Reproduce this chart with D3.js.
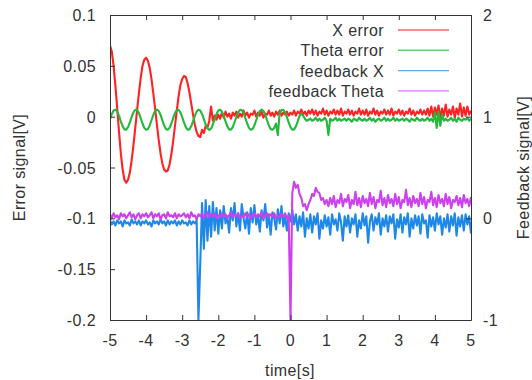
<!DOCTYPE html>
<html><head><meta charset="utf-8">
<script src="https://cdn.jsdelivr.net/npm/d3@7"></script>
<style>
html,body{margin:0;padding:0;background:#fff;}
svg text{font-family:"Liberation Sans",Arial,sans-serif;fill:#333;letter-spacing:0.4px;}
</style></head>
<body><svg id="c" width="532" height="380"></svg>
<script>
// sampling: one value every 0.05 s from -5 s to 5 s (201 samples)
const timeStart = -5, timeStep = 0.05;
const xTicks = [-5,-4,-3,-2,-1,0,1,2,3,4,5];
const yLeftTicks = [0.1,0.05,0,-0.05,-0.1,-0.15,-0.2];
const yLeftLabels = ["0.1","0.05","0","-0.05","-0.1","-0.15","-0.2"];
const yRightTicks = [2,1,0,-1];
const seriesNames = ["X error","Theta error","feedback X","feedback Theta"];
const seriesColors = ["#ff2222","#22b83a","#1e88e8","#cc40f0"];

const xError = [
0.070,0.064,0.050,0.030,0.008,-0.015,-0.036,-0.052,-0.062,-0.065,
-0.062,-0.055,-0.043,-0.028,-0.011,0.006,0.023,0.038,0.050,0.056,
0.058,0.055,0.048,0.037,0.023,0.008,-0.008,-0.023,-0.036,-0.046,
-0.052,-0.054,-0.053,-0.047,-0.037,-0.024,-0.009,0.006,0.020,0.031,
0.037,0.040,0.039,0.033,0.024,0.013,0.002,-0.008,-0.015,-0.019,
-0.020,
-0.013,-0.016,-0.009,-0.011,-0.004,0.010,-0.004,0.001,-0.003,0.002,
-0.002,0.004,-0.001,0.005,0.000,0.003,-0.002,0.004,0.001,0.005,
-0.001,0.003,0.000,0.006,0.001,0.004,-0.001,0.003,0.002,0.006,
0.000,0.004,0.001,0.005,-0.001,0.003,0.002,0.006,0.001,0.004,
0.000,0.005,0.002,0.006,0.001,0.004,0.002,0.005,0.001,0.004,
0.002,0.006,0.001,0.005,0.003,0.007,0.002,0.005,0.001,0.006,
0.003,0.007,0.002,0.006,0.001,0.005,0.003,0.008,0.002,0.006,
0.001,0.005,0.003,0.007,0.002,0.006,0.002,0.008,0.001,0.005,
0.003,0.007,0.002,0.006,0.001,0.005,0.003,0.008,0.002,0.006,
0.002,0.007,0.001,0.005,0.003,0.008,0.002,0.006,0.001,0.005,
0.003,0.007,0.002,0.006,0.002,0.008,0.001,0.005,0.003,0.007,
0.002,0.006,0.001,0.005,0.003,0.008,0.002,0.006,0.001,0.005,
0.003,0.007,0.002,0.006,0.002,0.008,0.001,0.010,0.000,0.009,
0.002,0.011,-0.001,0.008,0.001,0.012,0.000,0.007,0.002,0.010,
-0.001,0.008,0.002,0.013,0.000,0.009,0.001,0.010,0.002,0.006
];

const thetaError = [
-0.0025,0.0026,0.0061,0.0069,0.0050,0.0007,-0.0046,-0.0095,-0.0125,-0.0128,
-0.0103,-0.0057,-0.0003,0.0043,0.0068,0.0065,0.0035,-0.0014,-0.0067,-0.0110,
-0.0129,-0.0121,-0.0086,-0.0035,0.0017,0.0056,0.0070,0.0056,0.0017,-0.0035,
-0.0086,-0.0121,-0.0129,-0.0110,-0.0067,-0.0014,0.0035,0.0065,0.0068,0.0043,
-0.0003,-0.0057,-0.0103,-0.0128,-0.0125,-0.0095,-0.0046,0.0007,0.0050,0.0069,
0.0061,
0.0026,-0.0025,-0.0077,-0.0116,-0.0130,-0.0116,-0.0077,-0.0025,0.0026,0.0061,
0.0069,0.0050,0.0007,-0.0046,-0.0095,-0.0125,-0.0128,-0.0103,-0.0057,-0.0003,
0.0043,0.0068,0.0065,0.0035,-0.0014,-0.0067,-0.0110,-0.0129,-0.0121,-0.0086,
-0.0035,0.0017,0.0056,0.0070,0.0056,0.0017,-0.0035,-0.0086,-0.0121,-0.0129,
-0.0110,-0.0067,-0.0180,0.0035,0.0065,0.0068,0.0043,-0.0003,-0.0057,-0.0103,
-0.0128,-0.0125,-0.0095,-0.0046,0.0007,0.0030,0.0010,-0.0020,-0.0040,-0.0030,
-0.002,-0.004,-0.003,-0.001,-0.004,-0.002,-0.004,-0.003,-0.001,-0.004,
-0.018,-0.002,-0.004,-0.003,-0.001,-0.004,-0.002,-0.004,-0.003,-0.002,
-0.004,-0.002,-0.003,-0.005,-0.002,-0.003,-0.004,-0.001,-0.003,-0.004,
-0.002,-0.004,-0.003,-0.001,-0.004,-0.002,-0.005,-0.003,-0.002,-0.004,
-0.003,-0.001,-0.004,-0.002,-0.004,-0.003,-0.001,-0.004,-0.002,-0.004,
-0.003,-0.002,-0.004,-0.002,-0.003,-0.005,-0.002,-0.003,-0.004,-0.001,
-0.003,-0.004,-0.002,-0.004,-0.003,-0.001,-0.004,-0.002,-0.005,0.004,
-0.011,0.005,-0.009,0.002,-0.004,-0.002,-0.004,-0.003,-0.001,-0.004,
-0.002,-0.005,-0.001,-0.003,-0.004,-0.002,-0.003,-0.001,-0.004,-0.002
];

const feedbackX = [
-0.02,-0.06,-0.03,-0.07,-0.02,-0.05,-0.03,-0.08,-0.02,-0.05,
-0.04,-0.07,-0.01,-0.05,-0.03,-0.06,-0.02,-0.07,-0.03,-0.05,
-0.02,-0.06,-0.04,-0.08,-0.02,-0.05,-0.03,-0.06,-0.01,-0.05,
-0.03,-0.07,-0.02,-0.06,-0.03,-0.05,-0.02,-0.07,-0.03,-0.06,
-0.02,-0.05,-0.04,-0.07,-0.02,-0.06,-0.03,-0.05,-0.02,
-1.00,
-0.45,
0.15,-0.30,0.18,-0.22,0.12,-0.18,0.16,-0.12,0.10,-0.15,
0.08,-0.10,0.12,-0.05,0.02,-0.14,0.10,-0.02,0.15,-0.08,
0.05,-0.12,0.14,0.00,-0.10,0.06,-0.15,0.10,-0.04,0.13,
-0.06,0.03,-0.13,0.08,-0.02,0.14,-0.09,0.04,-0.16,0.06,
0.00,-0.11,0.09,-0.05,0.12,-0.08,0.02,-0.12,0.05,-0.03,
0.08,-0.06,0.04,-0.12,0.02,-0.08,0.06,-0.18,0.00,-0.10,
0.04,-0.14,0.02,-0.06,0.05,-0.20,-0.02,-0.10,0.03,-0.08,
0.01,-0.16,0.04,-0.06,-0.01,-0.12,0.05,-0.04,-0.22,0.02,
-0.08,0.03,-0.14,0.00,-0.06,0.04,-0.18,-0.02,-0.10,0.05,
-0.07,0.02,-0.24,-0.03,0.04,-0.12,0.01,-0.06,0.05,-0.16,
0.00,-0.08,0.03,-0.13,0.02,-0.05,0.04,-0.20,-0.01,-0.09,
0.04,-0.14,0.01,-0.06,0.05,-0.18,0.00,-0.10,0.03,-0.07,
0.02,-0.15,0.04,-0.05,-0.02,-0.19,0.03,-0.08,0.01,-0.12,
0.05,-0.06,0.02,-0.16,0.00,-0.09,0.04,-0.13,0.02,-0.07,
0.05,-0.17,0.01,-0.08,0.03,-0.12,0.04,-0.06,0.02,-0.15
];

const feedbackTheta = [
0.04,0.00,0.05,0.01,0.03,-0.01,0.05,0.02,0.04,0.00,
0.03,0.06,0.01,0.04,-0.01,0.03,0.05,0.00,0.04,0.02,
0.05,0.01,0.03,0.06,0.00,0.04,0.02,0.05,-0.01,0.03,
0.04,0.00,0.06,0.02,0.03,0.01,0.05,0.00,0.04,0.02,
0.03,0.05,0.01,0.04,0.00,0.06,0.02,0.03,-0.01,0.04,
0.02,0.05,0.00,0.03,0.06,0.01,0.04,0.02,0.05,0.00,
0.03,0.01,0.05,0.02,0.04,0.00,0.03,0.06,0.01,0.04,
0.02,0.05,0.00,0.03,0.01,0.05,0.02,0.04,-0.01,0.03,
0.05,0.01,0.04,0.02,0.06,0.00,0.03,0.05,0.01,0.04,
0.02,0.05,0.00,0.03,0.01,0.04,0.02,0.05,0.00,0.03,
-1.00,
0.25,0.36,0.30,0.33,0.24,0.20,0.12,0.14,0.08,0.14,
0.18,0.24,0.22,0.30,0.26,0.25,0.18,0.20,0.14,0.18,
0.12,0.20,0.14,0.22,0.11,0.18,0.15,0.24,0.12,0.19,
0.16,0.23,0.10,0.18,0.14,0.26,0.13,0.20,0.11,0.22,
0.15,0.19,0.12,0.25,0.14,0.21,0.10,0.18,0.16,0.27,
0.13,0.20,0.11,0.23,0.15,0.19,0.12,0.24,0.14,0.21,
0.10,0.18,0.16,0.28,0.13,0.20,0.11,0.22,0.15,0.19,
0.12,0.25,0.14,0.21,0.10,0.18,0.16,0.26,0.13,0.20,
0.11,0.23,0.15,0.19,0.12,0.24,0.14,0.21,0.10,0.18,
0.16,0.22,0.13,0.20,0.11,0.23,0.15,0.19,0.12,0.21
];

const svg = d3.select("#c");
const L = 110, R = 471, T = 15, B = 320;
const x = d3.scaleLinear().domain([-5,5]).range([L,R]);
const yL = d3.scaleLinear().domain([-0.2,0.1]).range([B,T]);
const yR = d3.scaleLinear().domain([-1,2]).range([B,T]);
const time = i => timeStart + i*timeStep;

svg.append("defs").append("clipPath").attr("id","clip")
  .append("rect").attr("x",L).attr("y",T).attr("width",R-L).attr("height",B-T);

const plot = svg.append("g").attr("clip-path","url(#clip)");
const series = [
  {v:xError, y:yL, c:seriesColors[0]},
  {v:thetaError, y:yL, c:seriesColors[1]},
  {v:feedbackX, y:yR, c:seriesColors[2]},
  {v:feedbackTheta, y:yR, c:seriesColors[3]}
];
series.forEach(s=>{
  const line = d3.line().x((d,i)=>x(time(i))).y(d=>s.y(d));
  plot.append("path").datum(s.v).attr("d",line)
    .attr("fill","none").attr("stroke",s.c).attr("stroke-width",2.1).attr("stroke-linejoin","round");
});

// axes (ticks inward, labels drawn separately)
const axStyle = g => { g.selectAll("path").attr("stroke","#333"); g.selectAll("line").attr("stroke","#333"); g.selectAll("text").remove(); };
svg.append("g").attr("transform",`translate(0,${B})`).call(d3.axisBottom(x).tickValues(xTicks).tickSizeInner(-5).tickSizeOuter(0)).call(axStyle);
svg.append("g").attr("transform",`translate(0,${T})`).call(d3.axisTop(x).tickValues(xTicks).tickSizeInner(-5).tickSizeOuter(0)).call(axStyle);
svg.append("g").attr("transform",`translate(${L},0)`).call(d3.axisLeft(yL).tickValues(yLeftTicks).tickSizeInner(-5).tickSizeOuter(0)).call(axStyle);
svg.append("g").attr("transform",`translate(${R},0)`).call(d3.axisRight(yR).tickValues(yRightTicks).tickSizeInner(-5).tickSizeOuter(0)).call(axStyle);

const fs = 16;
svg.append("g").selectAll("text").data(xTicks).join("text")
  .attr("x",d=>x(d)).attr("y",346).attr("text-anchor","middle")
  .attr("font-size",fs).text(d=>d);
svg.append("g").selectAll("text").data(yLeftTicks).join("text")
  .attr("x",96).attr("y",d=>yL(d)+6).attr("text-anchor","end")
  .attr("font-size",fs).text((d,i)=>yLeftLabels[i]);
svg.append("g").selectAll("text").data(yRightTicks).join("text")
  .attr("x",483).attr("y",d=>yR(d)+6).attr("text-anchor","start")
  .attr("font-size",fs).text(d=>d);

svg.append("text").attr("x",290).attr("y",376).attr("text-anchor","middle").attr("font-size",fs).text("time[s]");
svg.append("text").attr("transform",`translate(25,${(T+B)/2}) rotate(-90)`).attr("text-anchor","middle").attr("font-size",fs).text("Error signal[V]");
svg.append("text").attr("transform",`translate(529,${(T+B)/2}) rotate(-90)`).attr("text-anchor","middle").attr("font-size",fs).text("Feedback signal[V]");

// legend
const leg = svg.append("g");
seriesNames.forEach((n,i)=>{
  const yy = 30 + i*20.3;
  leg.append("text").attr("x",384).attr("y",yy+6).attr("text-anchor","end").attr("font-size",fs).text(n);
  leg.append("line").attr("x1",398).attr("x2",449).attr("y1",yy).attr("y2",yy)
    .attr("stroke",seriesColors[i]).attr("stroke-width",1.4).attr("opacity",0.7);
});
</script></body></html>
